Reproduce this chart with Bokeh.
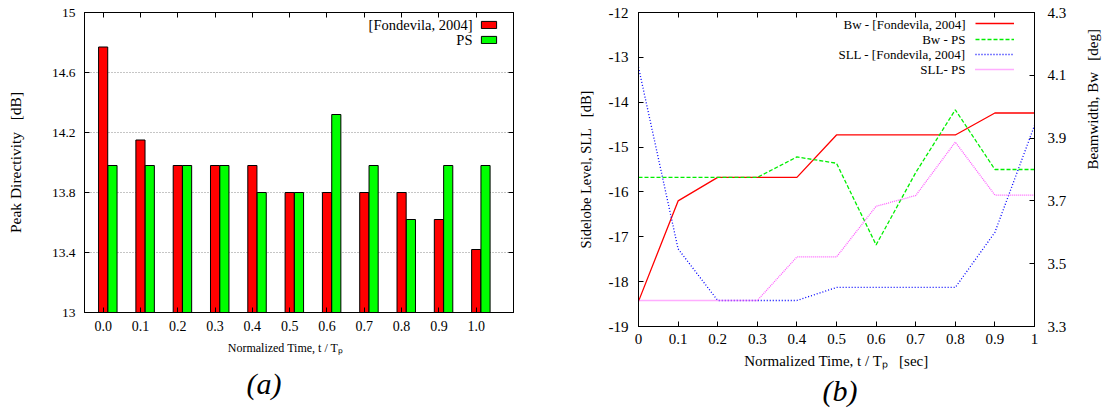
import math
from bokeh.plotting import figure
from bokeh.models import (Range1d, LinearAxis, FixedTicker, Label, Legend, LegendItem, Title,
                          ColumnDataSource, PrintfTickFormatter, CustomJSTickFormatter)
from bokeh.layouts import row, column
from bokeh.transform import dodge
from bokeh.core.properties import value
from bokeh.embed import file_html
from bokeh.resources import INLINE

# ---- (a) peak directivity per normalized time step ----
time_labels = ["0.0", "0.1", "0.2", "0.3", "0.4", "0.5", "0.6", "0.7", "0.8", "0.9", "1.0"]
directivity_fondevila = [14.77, 14.15, 13.98, 13.98, 13.98, 13.80, 13.80, 13.80, 13.80, 13.62, 13.42]
directivity_ps = [13.98, 13.98, 13.98, 13.98, 13.80, 13.80, 14.32, 13.98, 13.62, 13.98, 13.98]

# ---- (b) beamwidth and sidelobe level versus normalized time ----
t_norm = [0.0, 0.1, 0.2, 0.3, 0.4, 0.5, 0.6, 0.7, 0.8, 0.9, 1.0]
bw_fondevila = [3.38, 3.70, 3.775, 3.775, 3.775, 3.91, 3.91, 3.91, 3.91, 3.98, 3.98]
bw_ps = [3.775, 3.775, 3.775, 3.775, 3.84, 3.82, 3.56, 3.79, 3.99, 3.80, 3.80]
sll_fondevila = [-13.22, -17.27, -18.42, -18.42, -18.42, -18.13, -18.13, -18.13, -18.13, -16.90, -14.52]
sll_ps = [-18.42, -18.42, -18.42, -18.42, -17.45, -17.45, -16.32, -16.08, -14.89, -16.07, -16.07]

SERIF = "Liberation Serif"
NB = "\u00a0"


def style_axis(ax, size, standoff, labels=True):
    ax.major_tick_in = 5
    ax.major_tick_out = 0
    ax.minor_tick_in = 0
    ax.minor_tick_out = 0
    ax.axis_line_color = "black"
    ax.major_tick_line_color = "black"
    ax.major_label_text_font = SERIF
    ax.major_label_text_color = "black"
    ax.major_label_text_font_size = size
    ax.major_label_standoff = standoff
    ax.axis_label_text_font = SERIF
    ax.axis_label_text_font_style = "normal"
    ax.axis_label_text_color = "black"
    if not labels:
        ax.formatter = CustomJSTickFormatter(code="return ''")
        ax.major_label_standoff = 0


def text(p, x, y, s, xo, yo, size, align="center", y_range_name="default"):
    p.add_layout(Label(x=x, y=y, x_offset=xo, y_offset=yo, text=s, text_font=SERIF,
                       text_font_size=size, text_align=align, text_baseline="middle",
                       text_color="black", y_range_name=y_range_name))


def tag(p, s, offset, standoff):
    p.add_layout(Title(text=s, align="left", offset=offset, standoff=standoff,
                       text_font=SERIF, text_font_size="30px", text_font_style="italic",
                       text_color="black"), "below")


def swatch(p, renderer, loc, gw, gh):
    # a key entry with no visible label: the text sits to its left
    p.add_layout(Legend(items=[LegendItem(label=value(" "), renderers=[renderer])],
                        location=loc, glyph_width=gw, glyph_height=gh, label_height=gh,
                        label_width=0, label_standoff=0, label_text_font_size="6px",
                        spacing=0, padding=0, margin=0, border_line_color=None,
                        background_fill_alpha=0))


# ================= panel (a) =================
pa = figure(width=560, height=412, x_range=Range1d(-0.5, 11.0), y_range=Range1d(13, 15),
            output_backend="svg", toolbar_location=None,
            min_border_left=84, min_border_right=47, min_border_top=12, min_border_bottom=100,
            background_fill_color="white", border_fill_color="white")
pa.outline_line_color = "black"
pa.outline_line_width = 1

src_a = ColumnDataSource(dict(idx=list(range(len(time_labels))),
                              fond=directivity_fondevila, ps=directivity_ps))
r_fond = pa.vbar(x=dodge("idx", 0.0, range=pa.x_range), top="fond", bottom=13, width=0.245,
                 fill_color="#ff0000", line_color="black", line_width=1, source=src_a)
r_ps = pa.vbar(x=dodge("idx", 0.25, range=pa.x_range), top="ps", bottom=13, width=0.245,
               fill_color="#00ff00", line_color="black", line_width=1, source=src_a)

cat_ticks = list(range(len(time_labels)))
pa.xaxis.ticker = FixedTicker(ticks=cat_ticks)
pa.xaxis.major_label_overrides = {i: lab for i, lab in enumerate(time_labels)}
style_axis(pa.xaxis[0], "14px", 8)
# trailing no-break spaces shift the centred label a little to the left
pa.xaxis.axis_label = "Normalized Time, t / T\u209a" + NB * 9
pa.xaxis.axis_label_text_font_size = "12px"
pa.xaxis.axis_label_standoff = 7

dir_ticks = [13, 13.4, 13.8, 14.2, 14.6, 15]
pa.yaxis.ticker = FixedTicker(ticks=dir_ticks)
pa.yaxis.formatter = PrintfTickFormatter(format="%g")
style_axis(pa.yaxis[0], "13.5px", 9)
pa.yaxis.axis_label = "Peak Directivity" + NB * 3 + "[dB]"
pa.yaxis.axis_label_text_font_size = "15.5px"
pa.yaxis.axis_label_standoff = 25

pa.xgrid.visible = False
pa.ygrid.ticker = FixedTicker(ticks=[13.4, 13.8, 14.2, 14.6])
pa.ygrid.grid_line_color = "#8c8c8c"
pa.ygrid.grid_line_dash = "1 2"
pa.ygrid.grid_line_width = 1

ax_top_a = LinearAxis(ticker=FixedTicker(ticks=cat_ticks))
style_axis(ax_top_a, "10px", 0, labels=False)
pa.add_layout(ax_top_a, "above")
ax_right_a = LinearAxis(ticker=FixedTicker(ticks=dir_ticks))
style_axis(ax_right_a, "10px", 0, labels=False)
pa.add_layout(ax_right_a, "right")

tag(pa, "(a)", 162, 15)

# key: text on the left, swatch on the right
text(pa, 11.0, 15, "[Fondevila, 2004]", -41, -12, "14.5px", align="right")
text(pa, 11.0, 15, "PS", -41, -27.3, "14.5px", align="right")
swatch(pa, r_fond, (395, 283), 19, 9)
swatch(pa, r_ps, (395, 268), 19, 9)

# ================= panel (b) =================
pb = figure(width=557, height=412, x_range=Range1d(0, 1), y_range=Range1d(-19, -12),
            output_backend="svg", toolbar_location=None,
            min_border_left=78, min_border_right=83, min_border_top=12, min_border_bottom=86,
            background_fill_color="white", border_fill_color="white")
pb.extra_y_ranges = {"bw": Range1d(3.3, 4.3)}
pb.outline_line_color = "black"
pb.outline_line_width = 1
pb.xgrid.visible = False
pb.ygrid.visible = False

l_bw_f = pb.line(t_norm, bw_fondevila, y_range_name="bw", line_color="#ff0000", line_width=1.3)
l_bw_p = pb.line(t_norm, bw_ps, y_range_name="bw", line_color="#00ee00", line_width=1.3, line_dash="4 2")
l_sll_f = pb.line(t_norm, sll_fondevila, line_color="#0000ff", line_width=1.3, line_dash="1 2")
l_sll_p = pb.line(t_norm, sll_ps, line_color="#ff5cff", line_width=1.3, line_dash="1 1")

t_ticks = [0, 0.1, 0.2, 0.3, 0.4, 0.5, 0.6, 0.7, 0.8, 0.9, 1]
pb.xaxis.ticker = FixedTicker(ticks=t_ticks)
pb.xaxis.formatter = PrintfTickFormatter(format="%g")
style_axis(pb.xaxis[0], "15px", 7)
pb.xaxis.axis_label = "Normalized Time, t / T\u209a" + NB * 3 + "[sec]"
pb.xaxis.axis_label_text_font_size = "15px"
pb.xaxis.axis_label_standoff = 6

sll_ticks = [-19, -18, -17, -16, -15, -14, -13, -12]
pb.yaxis.ticker = FixedTicker(ticks=sll_ticks)
pb.yaxis.formatter = PrintfTickFormatter(format="%g")
style_axis(pb.yaxis[0], "15px", 10)
pb.yaxis.axis_label = "Sidelobe Level, SLL" + NB * 3 + "[dB]"
pb.yaxis.axis_label_text_font_size = "14.5px"
pb.yaxis.axis_label_standoff = 12

bw_ticks = [3.3, 3.5, 3.7, 3.9, 4.1, 4.3]
ax_bw = LinearAxis(y_range_name="bw", ticker=FixedTicker(ticks=bw_ticks),
                   formatter=PrintfTickFormatter(format="%g"))
style_axis(ax_bw, "15px", 13)
ax_bw.axis_label = "Beamwidth, Bw" + NB * 3 + "[deg]"
ax_bw.axis_label_text_font_size = "15px"
ax_bw.axis_label_standoff = 24
ax_bw.axis_label_orientation = math.pi / 2
pb.add_layout(ax_bw, "right")

ax_top_b = LinearAxis(ticker=FixedTicker(ticks=t_ticks))
style_axis(ax_top_b, "10px", 0, labels=False)
pb.add_layout(ax_top_b, "above")

tag(pb, "(b)", 184, 0)

leg_names = ["Bw - [Fondevila, 2004]", "Bw - PS", "SLL - [Fondevila, 2004]", "SLL- PS"]
leg_lines = [l_bw_f, l_bw_p, l_sll_f, l_sll_p]
for i, (name, rend) in enumerate(zip(leg_names, leg_lines)):
    dy = 11.5 + 15.33 * i
    text(pb, 1, -12, name, -69, -dy, "13px", align="right")
    swatch(pb, rend, (337, round(314 - dy - 5)), 39, 10)

layout = row(column(pa), column(pb), spacing=0)
open("out.html", "w").write(file_html(layout, INLINE))
